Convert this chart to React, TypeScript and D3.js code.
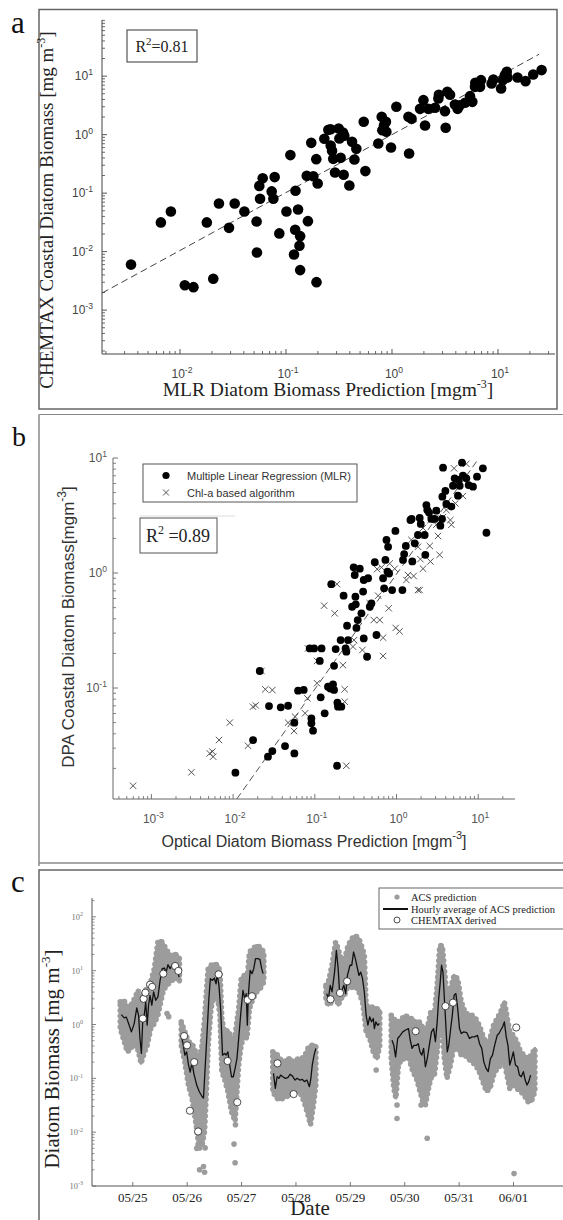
import React from 'react';
import * as d3 from 'd3';

const SERIF = '"Liberation Serif", "Times New Roman", serif';
const SANS = '"Liberation Sans", Arial, sans-serif';

// ---------- Panel a: MLR prediction vs CHEMTAX coastal diatom biomass (mg m^-3)
const mlrPredictionA = [
  0.00345, 0.0066, 0.0082, 0.0111, 0.0134, 0.0179, 0.0206, 0.0233, 0.029, 0.0328,
  0.0405, 0.0528, 0.0532, 0.056, 0.0569, 0.0603, 0.0733, 0.076, 0.0782, 0.0865,
  0.101, 0.11, 0.119, 0.122, 0.123, 0.13, 0.134, 0.136, 0.136, 0.161,
  0.157, 0.173, 0.181, 0.193, 0.194, 0.199, 0.23, 0.251, 0.264, 0.264,
  0.272, 0.279, 0.29, 0.314, 0.319, 0.328, 0.345, 0.35, 0.355, 0.396,
  0.42, 0.442, 0.461, 0.541, 0.561, 0.743, 0.8, 0.81, 0.841, 0.877,
  0.885, 0.979, 1.1, 1.43, 1.45, 1.53, 1.84, 1.98, 2.05, 2.2,
  2.55, 2.74, 2.77, 3.16, 3.21, 3.33, 3.53, 3.93, 4.16, 4.38,
  4.89, 5.45, 5.73, 6.07, 6.11, 6.53, 6.92, 6.77, 8.71, 9.04,
  10.7, 11.1, 11.6, 12.1, 12.3, 15.3, 18.2, 21.5, 25.8,
];
const chemtaxA = [
  0.006, 0.0316, 0.0486, 0.00267, 0.00247, 0.0316, 0.00343, 0.0667, 0.0255, 0.0667,
  0.0486, 0.0328, 0.00968, 0.133, 0.08, 0.18, 0.107, 0.08, 0.188, 0.0205,
  0.0486, 0.447, 0.00895, 0.0236, 0.11, 0.0526, 0.0126, 0.0184, 0.00483, 0.0332,
  0.198, 0.724, 0.195, 0.381, 0.00301, 0.146, 0.849, 1.21, 1.24, 0.653,
  0.53, 0.386, 0.225, 1.27, 0.859, 0.401, 1.09, 0.206, 0.955, 0.135,
  0.753, 0.376, 0.573, 1.66, 0.238, 0.706, 2.02, 1.19, 1.45, 1.66,
  1.12, 0.604, 2.99, 2.02, 0.476, 1.87, 2.76, 3.89, 1.43, 2.76,
  2.88, 4.15, 4.8, 2.52, 1.31, 5.4, 4.8, 3.28, 2.76, 3.19,
  3.5, 4.55, 3.64, 6.56, 7.7, 7.5, 8.55, 6.56, 7.5, 8.77,
  6.15, 8.55, 10.4, 11.9, 9.5, 9.5, 8.22, 10.7, 12.7,
];
// log10(y) = slope * log10(x) + intercept
const fitA = { slope: 0.99, intercept: 0.0, xFrom: 0.00184, xTo: 24.5 };

// ---------- Panel b: optical prediction vs DPA coastal diatom biomass (mg m^-3)
const mlrOpticalB = [
  0.01067, 0.01754, 0.0212, 0.0267, 0.0302, 0.0275, 0.0383, 0.0432, 0.0471, 0.0562,
  0.0562, 0.0624, 0.0731, 0.0908, 0.0908, 0.0951, 0.098, 0.0866, 0.115, 0.118,
  0.121, 0.132, 0.145, 0.155, 0.167, 0.172, 0.172, 0.18, 0.187, 0.189,
  0.192, 0.211, 0.159, 0.225, 0.207, 0.238, 0.243, 0.248, 0.255, 0.299,
  0.308, 0.314, 0.317, 0.286, 0.323, 0.335, 0.355, 0.372, 0.39, 0.397,
  0.397, 0.436, 0.449, 0.471, 0.493, 0.542, 0.568, 0.685, 0.705, 0.731,
  0.753, 0.789, 0.775, 0.811, 0.883, 0.969, 1.18, 1.2, 1.24, 1.3,
  1.48, 1.53, 1.56, 1.67, 1.83, 1.92, 1.98, 2.21, 2.25, 2.32,
  2.38, 2.5, 2.67, 2.93, 3.07, 3.44, 3.6, 3.71, 3.64, 3.96,
  4.07, 4.69, 4.91, 5.15, 5.65, 5.76, 5.93, 6.33, 6.5, 7.15,
  7.63, 8.62, 9.66, 11.4, 12.6,
];
const dpaMlrB = [
  0.01836, 0.0353, 0.1406, 0.0253, 0.0283, 0.0697, 0.0679, 0.0313, 0.0701, 0.05,
  0.027, 0.0948, 0.0962, 0.0544, 0.0493, 0.0426, 0.221, 0.221, 0.172, 0.083,
  0.221, 0.0603, 0.1026, 0.099, 0.1076, 0.0962, 0.156, 0.218, 0.0211, 0.0745,
  0.0688, 0.0688, 0.8, 0.635, 0.261, 0.221, 0.207, 0.348, 0.261, 1.12,
  0.961, 0.622, 0.534, 0.509, 0.333, 0.39, 1.09, 0.446, 0.689, 0.27,
  0.869, 0.187, 0.9, 0.509, 0.545, 1.24, 0.289, 0.9, 0.736, 1.3,
  1.94, 1.69, 1.03, 0.99, 0.711, 2.32, 0.711, 1.3, 1.46, 1.72,
  2.89, 2.95, 1.26, 1.81, 2.14, 3.01, 2.67, 2.14, 1.44, 3.9,
  3.53, 3.35, 2.95, 2.95, 3.48, 2.58, 2.95, 8.24, 4.61, 5.17,
  3.98, 3.78, 5.74, 6.66, 4.7, 6.44, 5.74, 9.1, 7.03, 6.66,
  5.82, 5.63, 6.88, 8.13, 2.24,
];
const chlOpticalB = [
  0.000596, 0.00309, 0.00518, 0.00558, 0.00569, 0.00673, 0.0091, 0.0152, 0.0175, 0.0189,
  0.0222, 0.0248, 0.0302, 0.0471, 0.0557, 0.0573, 0.076, 0.081, 0.0826, 0.1064,
  0.1064, 0.13, 0.175, 0.187, 0.221, 0.232, 0.232, 0.243, 0.293, 0.302,
  0.382, 0.471, 0.527, 0.624, 0.596, 0.685, 0.685, 0.803, 0.579, 0.655,
  0.826, 0.95, 0.977, 1.09, 1.32, 1.38, 1.62, 1.83, 1.92, 1.52,
  1.83, 1.96, 2.55, 2.6, 3.22, 3.37, 3.07, 3.71, 4.07, 4.56,
  4.69, 5.06, 5.25, 6.5, 7.15, 6.5, 2.11, 2.6, 2.11,
];
const dpaChlB = [
  0.01413, 0.0185, 0.027, 0.028, 0.0253, 0.0353, 0.05, 0.0315, 0.0688, 0.0706,
  0.1406, 0.0975, 0.096, 0.05, 0.0423, 0.0564, 0.0603, 0.0813, 0.221, 0.11,
  0.172, 0.52, 0.446, 0.8, 0.158, 0.0975, 0.076, 0.0211, 0.229, 0.261,
  0.214, 0.545, 0.39, 0.39, 0.635, 0.274, 0.19, 0.493, 1.08, 1.12,
  1.21, 1.09, 0.333, 0.311, 0.869, 0.961, 0.942, 0.711, 0.711, 1.94,
  1.69, 1.32, 1.72, 1.26, 2.1, 1.44, 2.63, 3.07, 3.53, 2.89,
  2.63, 8.13, 4.03, 4.67, 8.9, 6.88, 1.09, 2.89, 2.46,
];
const fitB = { slope: 1.0, intercept: -0.01, xFrom: 0.0111, xTo: 9.9 };

// ---------- Panel c: time series, days counted from 05/25 00:00
// ACS prediction spread: [day, low, high]
const acsSpread1 = [
  [-0.231, 0.84, 2.63], [-0.165, 0.51, 2.82], [-0.099, 0.31, 2.12], [-0.033, 0.36, 2.28],
  [0.033, 0.44, 3.03], [0.099, 0.33, 4.32], [0.152, 0.19, 1.72], [0.198, 0.27, 4.03],
  [0.264, 0.41, 4.64], [0.33, 0.84, 6.17], [0.396, 1.04, 10.9], [0.462, 1.49, 34],
  [0.515, 2.63, 36.5], [0.561, 4.32, 31.6], [0.627, 5.35, 23.8], [0.693, 6.17, 19.2],
  [0.759, 7.1, 20.6], [0.825, 7.1, 19.2], [0.858, 6.17, 16.7],
];
const acsSpread2 = [
  [0.891, 0.41, 1.12], [0.957, 0.2, 0.73], [1.023, 0.075, 0.48], [1.089, 0.043, 0.44],
  [1.155, 0.016, 0.31], [1.221, 0.005, 0.23], [1.274, 0.0058, 0.41], [1.32, 0.0103, 1.29],
  [1.353, 0.057, 4.03], [1.386, 0.41, 10.9], [1.439, 1.98, 12.6], [1.505, 4.03, 13.5],
  [1.564, 2.82, 12.6], [1.604, 1.49, 9.4], [1.637, 0.133, 1.29], [1.683, 0.1, 0.73],
  [1.749, 0.057, 0.79], [1.815, 0.024, 0.55], [1.881, 0.016, 0.63], [1.947, 0.177, 1.98],
  [1.993, 0.41, 7.1], [2.046, 0.63, 8.2], [2.099, 0.55, 6.17], [2.145, 1.98, 22.2],
  [2.211, 3.03, 25.5], [2.277, 4.03, 29.4], [2.343, 4.64, 27.4], [2.409, 6.17, 22.2],
];
const acsSpread3 = [
  [2.574, 0.057, 0.31], [2.64, 0.043, 0.29], [2.706, 0.04, 0.23], [2.772, 0.043, 0.2],
  [2.838, 0.046, 0.23], [2.904, 0.049, 0.23], [2.97, 0.057, 0.2], [3.036, 0.057, 0.23],
  [3.102, 0.049, 0.23], [3.168, 0.032, 0.27], [3.221, 0.021, 0.36], [3.267, 0.0137, 0.41],
  [3.314, 0.028, 0.41], [3.366, 0.075, 0.41],
];
const acsSpread4 = [
  [3.551, 2.82, 5.35], [3.597, 2.28, 6.17], [3.663, 2.63, 12.6], [3.729, 3.49, 34],
  [3.776, 2.28, 25.5], [3.828, 3.03, 16.7], [3.894, 3.49, 16.7], [3.96, 5.35, 29.4],
  [4.026, 4.64, 39.1], [4.092, 5.35, 45], [4.158, 4.03, 39.1], [4.224, 2.63, 25.5],
  [4.257, 1.49, 19.2], [4.29, 0.73, 2.28], [4.356, 0.55, 2.12], [4.422, 0.31, 2.12],
  [4.488, 0.23, 1.98], [4.541, 0.41, 1.84],
];
const acsSpread5 = [
  [4.752, 0.23, 1.49], [4.799, 0.065, 1.29], [4.838, 0.043, 1.12], [4.884, 0.177, 1.12],
  [4.95, 0.23, 1.29], [5.017, 0.23, 1.49], [5.083, 0.23, 1.29], [5.149, 0.133, 1.29],
  [5.215, 0.1, 1.04], [5.281, 0.057, 1.12], [5.333, 0.037, 0.84], [5.38, 0.032, 0.84],
  [5.426, 0.057, 0.97], [5.479, 0.1, 1.72], [5.545, 0.115, 1.49], [5.597, 0.31, 5.35],
  [5.644, 0.84, 29.4], [5.69, 0.97, 29.4], [5.729, 0.23, 10.9], [5.776, 0.1, 3.03],
  [5.842, 0.177, 4.64], [5.908, 0.41, 8.2], [5.974, 0.36, 7.1], [6.04, 0.27, 2.63],
  [6.106, 0.27, 1.72], [6.172, 0.23, 1.49], [6.238, 0.2, 1.49], [6.304, 0.177, 1.29],
  [6.37, 0.133, 0.97], [6.436, 0.087, 0.63], [6.502, 0.057, 0.41], [6.568, 0.065, 0.55],
  [6.634, 0.115, 0.97], [6.7, 0.153, 1.29], [6.766, 0.177, 1.72], [6.832, 0.2, 2.63],
  [6.878, 0.115, 1.49], [6.931, 0.065, 0.73], [6.997, 0.075, 0.63], [7.063, 0.065, 0.48],
  [7.129, 0.057, 0.31], [7.195, 0.049, 0.27], [7.261, 0.037, 0.23], [7.327, 0.037, 0.27],
  [7.393, 0.057, 0.36],
];
const acsSpreads = [acsSpread1, acsSpread2, acsSpread3, acsSpread4, acsSpread5];
// isolated ACS predictions outside the dense clouds: [day, value]
const acsOutliers = [
  [0.66, 1.4], [0.63, 1.6], [1.175, 0.005], [1.228, 0.002], [1.32, 0.0018], [1.3, 0.0023],
  [1.33, 0.0051], [1.2, 0.0058], [1.861, 0.006], [1.881, 0.0027], [1.888, 0.0137],
  [4.475, 0.143], [4.858, 0.032], [4.858, 0.018], [5.3, 0.032], [5.413, 0.0077], [7.01, 0.0017],
];

// hourly average of ACS prediction: [day, value]
const hourlyAvg1 = [
  [-0.211, 1.53], [-0.158, 1.33], [-0.119, 1.37], [-0.066, 0.97], [-0.026, 0.73], [0.026, 1.04],
  [0.073, 2.04], [0.106, 1.49], [0.132, 0.55], [0.158, 0.29], [0.185, 1.29], [0.211, 1.5],
  [0.238, 2.63], [0.264, 0.97], [0.29, 2.28], [0.317, 3.49], [0.35, 2.28], [0.383, 4.03],
  [0.422, 2.82], [0.462, 3.25], [0.502, 6.6], [0.541, 10.9], [0.581, 11.2], [0.614, 9.4],
  [0.647, 12.9], [0.686, 10.9], [0.726, 12.9], [0.766, 12.6], [0.805, 12.9], [0.838, 8.8],
  [0.851, 7.6],
];
const hourlyAvg2 = [
  [0.891, 0.63], [0.924, 0.44], [0.957, 0.27], [0.99, 0.31], [1.023, 0.18], [1.056, 0.13],
  [1.089, 0.2], [1.122, 0.124], [1.175, 0.075], [1.221, 0.057], [1.274, 0.046], [1.3, 0.043],
  [1.333, 0.177], [1.366, 0.73], [1.399, 3.03], [1.426, 7.1], [1.465, 6.6], [1.498, 7.3],
  [1.531, 5.7], [1.551, 8.8], [1.584, 5.3], [1.617, 1.84], [1.65, 0.27], [1.69, 0.29],
  [1.716, 0.27], [1.749, 0.31], [1.782, 0.177], [1.815, 0.107], [1.848, 0.107], [1.881, 0.153],
  [1.914, 0.23], [1.947, 0.55], [1.993, 1.98], [2.026, 4.3], [2.059, 3.0], [2.086, 3.75],
  [2.106, 0.97], [2.125, 3.49], [2.158, 10.1], [2.191, 8.8], [2.224, 10.9], [2.257, 16.7],
  [2.297, 16.7], [2.337, 16.2], [2.37, 10.9], [2.396, 8.8],
];
const hourlyAvg3 = [
  [2.587, 0.124], [2.62, 0.065], [2.653, 0.107], [2.686, 0.1], [2.719, 0.115], [2.759, 0.107],
  [2.805, 0.1], [2.851, 0.103], [2.891, 0.119], [2.937, 0.11], [2.983, 0.093], [3.023, 0.1],
  [3.069, 0.093], [3.116, 0.096], [3.155, 0.087], [3.201, 0.093], [3.248, 0.07], [3.274, 0.1],
  [3.3, 0.177], [3.333, 0.27], [3.366, 0.36],
];
const hourlyAvg4 = [
  [3.564, 3.75], [3.597, 3.03], [3.63, 5.3], [3.663, 4.03], [3.71, 9.4], [3.743, 23.8],
  [3.776, 10.9], [3.802, 4.0], [3.842, 4.3], [3.881, 5.35], [3.914, 3.75], [3.947, 8.2],
  [3.993, 12.6], [4.026, 12.6], [4.059, 22.2], [4.092, 16.7], [4.125, 11.7], [4.158, 8.2],
  [4.191, 9.4], [4.224, 7.1], [4.257, 4.03], [4.29, 1.49], [4.323, 0.97], [4.356, 1.39],
  [4.389, 1.12], [4.422, 1.29], [4.442, 0.84], [4.469, 1.12], [4.502, 0.97], [4.535, 1.04],
];
const hourlyAvg5 = [
  [4.766, 0.51], [4.799, 0.41], [4.832, 0.25], [4.871, 0.55], [4.917, 0.63], [4.964, 0.73],
  [5.017, 0.79], [5.069, 0.84], [5.102, 0.51], [5.135, 0.36], [5.168, 0.41], [5.215, 0.41],
  [5.248, 0.44], [5.281, 0.31], [5.314, 0.27], [5.347, 0.36], [5.38, 0.164], [5.413, 0.23],
  [5.452, 0.41], [5.492, 0.73], [5.531, 0.84], [5.564, 0.48], [5.597, 1.12], [5.624, 3.0],
  [5.65, 5.7], [5.677, 12.6], [5.703, 9.4], [5.729, 3.03], [5.756, 0.97], [5.782, 0.31],
  [5.809, 0.41], [5.842, 0.79], [5.875, 1.49], [5.908, 3.5], [5.941, 3.75], [5.974, 1.98],
  [6.007, 0.84], [6.04, 0.68], [6.086, 0.73], [6.139, 0.71], [6.191, 0.55], [6.238, 0.59],
  [6.284, 0.59], [6.337, 0.63], [6.376, 0.44], [6.416, 0.36], [6.455, 0.2], [6.495, 0.153],
  [6.535, 0.133], [6.574, 0.23], [6.614, 0.27], [6.653, 0.41], [6.7, 0.63], [6.733, 0.68],
  [6.766, 0.79], [6.799, 0.9], [6.832, 1.12], [6.865, 0.6], [6.898, 0.41], [6.931, 0.177],
  [6.964, 0.23], [6.997, 0.31], [7.036, 0.177], [7.076, 0.164], [7.109, 0.115], [7.142, 0.107],
  [7.182, 0.133], [7.215, 0.093], [7.248, 0.075], [7.281, 0.087], [7.314, 0.115],
];
const hourlyAvgs = [hourlyAvg1, hourlyAvg2, hourlyAvg3, hourlyAvg4, hourlyAvg5];

// CHEMTAX-derived diatom biomass: [day, value]
const chemtaxC = [
  [0.185, 1.29], [0.198, 3.0], [0.231, 3.9], [0.317, 5.5], [0.356, 5.0], [0.561, 8.8],
  [0.779, 12.2], [0.838, 9.9], [0.944, 0.61], [0.997, 0.41], [1.129, 0.2], [1.05, 0.025],
  [1.201, 0.0103], [1.578, 8.55], [1.743, 0.21], [1.921, 0.036], [2.112, 2.86], [2.191, 3.35],
  [2.66, 0.19], [2.957, 0.051], [3.637, 2.94], [3.809, 3.86], [3.941, 6.35], [5.201, 0.75],
  [5.749, 2.19], [5.888, 2.55], [7.05, 0.88],
];
const dayLabels = ['05/25', '05/26', '05/27', '05/28', '05/29', '05/30', '05/31', '06/01'];

// ---------- helpers
function logTicks(scale: any) {
  const [d0, d1] = scale.domain();
  const majors: number[] = [];
  const minors: number[] = [];
  for (let e = Math.floor(Math.log10(d0)); e <= Math.ceil(Math.log10(d1)); e++) {
    for (let k = 1; k <= 9; k++) {
      const v = k * Math.pow(10, e);
      if (v < d0 * 0.9999 || v > d1 * 1.0001) continue;
      (k === 1 ? majors : minors).push(v);
    }
  }
  return { majors, minors };
}

function Pow10({ x, y, exp, size, anchor, family, fill, supScale = 0.72, supRise = 0.42 }: any) {
  return (
    <text x={x} y={y} fontSize={size} fontFamily={family} fill={fill} textAnchor={anchor}>
      10
      <tspan fontSize={size * supScale} dy={-size * supRise}>{exp}</tspan>
    </text>
  );
}

function LogAxes({ x, y, color, labelSize, labelColor, family, xLabelY, yLabelX, major = 5, minor = 3, supScale, supRise }: any) {
  const xt = logTicks(x);
  const yt = logTicks(y);
  const [x0, x1] = x.range();
  const [y0, y1] = y.range();
  return (
    <g>
      <line x1={x0} x2={x1} y1={y0} y2={y0} stroke={color} strokeWidth={1} />
      <line x1={x0} x2={x0} y1={y0} y2={y1} stroke={color} strokeWidth={1} />
      {xt.minors.map((v, i) => (
        <line key={'xm' + i} x1={x(v)} x2={x(v)} y1={y0} y2={y0 - minor} stroke={color} strokeWidth={0.8} />
      ))}
      {xt.majors.map((v, i) => (
        <line key={'xM' + i} x1={x(v)} x2={x(v)} y1={y0} y2={y0 - major} stroke={color} strokeWidth={0.9} />
      ))}
      {yt.minors.map((v, i) => (
        <line key={'ym' + i} x1={x0} x2={x0 + minor} y1={y(v)} y2={y(v)} stroke={color} strokeWidth={0.8} />
      ))}
      {yt.majors.map((v, i) => (
        <line key={'yM' + i} x1={x0} x2={x0 + major} y1={y(v)} y2={y(v)} stroke={color} strokeWidth={0.9} />
      ))}
      {xt.majors.map((v, i) => (
        <Pow10 key={'xl' + i} x={x(v) + 2} y={xLabelY} exp={Math.round(Math.log10(v))} size={labelSize}
          anchor="middle" family={family} fill={labelColor} supScale={supScale} supRise={supRise} />
      ))}
      {yt.majors.map((v, i) => (
        <Pow10 key={'yl' + i} x={yLabelX} y={y(v) + labelSize * 0.36} exp={Math.round(Math.log10(v))} size={labelSize}
          anchor="end" family={family} fill={labelColor} supScale={supScale} supRise={supRise} />
      ))}
    </g>
  );
}

function PanelA() {
  const x = d3.scaleLog().domain([Math.pow(10, -2.736), Math.pow(10, 1.538)]).range([102, 555]);
  const y = d3.scaleLog().domain([Math.pow(10, -3.75), Math.pow(10, 1.96)]).range([354, 20]);
  const fy = (v: number) => Math.pow(10, fitA.slope * Math.log10(v) + fitA.intercept);
  return (
    <g>
      <rect x={39} y={9.5} width={518} height={399.5} fill="none" stroke="#666" strokeWidth={1.5} />
      <text x={11} y={33} fontFamily={SERIF} fontSize={31} fill="#111">a</text>
      <LogAxes x={x} y={y} color="#444" labelSize={12} labelColor="#444" family={SANS} xLabelY={378} yLabelX={93} />
      <line x1={x(fitA.xFrom)} y1={y(fy(fitA.xFrom))} x2={x(fitA.xTo)} y2={y(fy(fitA.xTo))}
        stroke="#444" strokeWidth={1} strokeDasharray="7,4" />
      {mlrPredictionA.map((v, i) => (
        <circle key={i} cx={x(v)} cy={y(chemtaxA[i])} r={5.3} fill="#000" />
      ))}
      <rect x={127} y={30} width={70} height={32} fill="#fff" stroke="#555" strokeWidth={1.2} />
      <text x={162} y={52} fontFamily={SERIF} fontSize={16} fill="#222" textAnchor="middle">
        R<tspan fontSize={11} dy={-7}>2</tspan><tspan dy={7}>=0.81</tspan>
      </text>
      <text transform="translate(53,210) rotate(-90)" fontFamily={SERIF} fontSize={19} fill="#222" textAnchor="middle">
        CHEMTAX Coastal Diatom Biomass [mg m<tspan fontSize={12} dy={-8}>-3</tspan><tspan dy={8}>]</tspan>
      </text>
      <text x={328} y={396} fontFamily={SERIF} fontSize={19.5} fill="#222" textAnchor="middle">
        MLR Diatom Biomass Prediction [mgm<tspan fontSize={12} dy={-8}>-3</tspan><tspan dy={8}>]</tspan>
      </text>
    </g>
  );
}

function Cross({ cx, cy, s, color }: any) {
  return (
    <g stroke={color} strokeWidth={1}>
      <line x1={cx - s} y1={cy - s} x2={cx + s} y2={cy + s} />
      <line x1={cx - s} y1={cy + s} x2={cx + s} y2={cy - s} />
    </g>
  );
}

function PanelB() {
  const x = d3.scaleLog().domain([Math.pow(10, -3.47), Math.pow(10, 1.45)]).range([113, 515]);
  const y = d3.scaleLog().domain([Math.pow(10, -1.965), Math.pow(10, 1)]).range([799, 458]);
  const fy = (v: number) => Math.pow(10, fitB.slope * Math.log10(v) + fitB.intercept);
  return (
    <g>
      <line x1={39} x2={39} y1={414.5} y2={866} stroke="#888" strokeWidth={1.5} />
      <line x1={39} x2={563} y1={414.5} y2={414.5} stroke="#888" strokeWidth={1.2} />
      <line x1={39} x2={563} y1={863} y2={863} stroke="#888" strokeWidth={1.5} />
      <text x={12} y={446} fontFamily={SERIF} fontSize={28} fill="#111">b</text>
      <LogAxes x={x} y={y} color="#666" labelSize={12} labelColor="#555" family={SANS} xLabelY={823} yLabelX={107} />
      <line x1={x(fitB.xFrom)} y1={y(fy(fitB.xFrom))} x2={x(fitB.xTo)} y2={y(fy(fitB.xTo))}
        stroke="#555" strokeWidth={1} strokeDasharray="7,4" />
      {chlOpticalB.map((v, i) => (
        <Cross key={'c' + i} cx={x(v)} cy={y(dpaChlB[i])} s={3.2} color="#555" />
      ))}
      {mlrOpticalB.map((v, i) => (
        <circle key={i} cx={x(v)} cy={y(dpaMlrB[i])} r={3.9} fill="#000" />
      ))}
      <rect x={143} y={464} width={214} height={38} fill="#fff" stroke="#555" strokeWidth={1} />
      <circle cx={166} cy={475.5} r={3.6} fill="#000" />
      <Cross cx={166} cy={492.5} s={3} color="#555" />
      <text x={187} y={479.5} fontFamily={SANS} fontSize={11} fill="#333">Multiple Linear Regression (MLR)</text>
      <text x={187} y={496.5} fontFamily={SANS} fontSize={11} fill="#333">Chl-a based algorithm</text>
      <line x1={140} x2={235} y1={516} y2={516} stroke="#ddd" strokeWidth={1} />
      <rect x={140} y={518} width={77} height={35} fill="#fff" stroke="#555" strokeWidth={1} />
      <text x={178} y={542} fontFamily={SERIF} fontSize={18} fill="#222" textAnchor="middle">
        R<tspan fontSize={12} dy={-8}>2</tspan><tspan dy={8}> =0.89</tspan>
      </text>
      <text transform="translate(74,627) rotate(-90)" fontFamily={SANS} fontSize={17} fill="#333" textAnchor="middle">
        DPA Coastal Diatom Biomass[mgm<tspan fontSize={12} dy={-8}>-3</tspan><tspan dy={8}>]</tspan>
      </text>
      <text x={314} y={847} fontFamily={SANS} fontSize={16} fill="#333" textAnchor="middle">
        Optical Diatom Biomass Prediction [mgm<tspan fontSize={11} dy={-8}>-3</tspan><tspan dy={8}>]</tspan>
      </text>
    </g>
  );
}

function PanelC() {
  const t0 = Date.UTC(2019, 4, 25);
  const toDate = (d: number) => new Date(t0 + d * 864e5);
  const x = d3.scaleUtc().domain([toDate(-0.75), toDate(7.91)]).range([92, 563]);
  const y = d3.scaleLog().domain([1e-3, Math.pow(10, 2.35)]).range([1186, 898]);
  const days = dayLabels.map((_, i) => toDate(i));
  const yt = logTicks(y);
  const area = d3.area<number[]>().x((d) => x(toDate(d[0]))).y0((d) => y(d[1])).y1((d) => y(d[2]));
  const line = d3.line<number[]>().x((d) => x(toDate(d[0]))).y((d) => y(d[1]));
  const fmt = d3.utcFormat('%m/%d');
  const grey = '#9c9c9c';
  return (
    <g>
      <rect x={39} y={870} width={530} height={380} fill="none" stroke="#666" strokeWidth={1.5} />
      <text x={11} y={892} fontFamily={SERIF} fontSize={31} fill="#111">c</text>
      {acsSpreads.map((seg, i) => {
        const d = area(seg as any) || '';
        return (
          <g key={'a' + i}>
            {/* dense cloud of ACS predictions, with a dotted rim for the scattered edge */}
            <path d={d} fill={grey} stroke={grey} strokeWidth={3} strokeLinejoin="round" />
            <path d={d} fill="none" stroke={grey} strokeWidth={5.6} strokeLinecap="round"
              strokeDasharray="0 5.5" />
          </g>
        );
      })}
      {acsOutliers.map((d, i) => (
        <circle key={'o' + i} cx={x(toDate(d[0]))} cy={y(d[1])} r={2.8} fill={grey} />
      ))}
      {hourlyAvgs.map((seg, i) => (
        <path key={'l' + i} d={line(seg as any) || ''} fill="none" stroke="#111" strokeWidth={1.3} strokeLinejoin="round" />
      ))}
      {chemtaxC.map((d, i) => (
        <circle key={'c' + i} cx={x(toDate(d[0]))} cy={y(d[1])} r={3.6} fill="#fff" stroke="#222" strokeWidth={0.8} />
      ))}
      <line x1={92} x2={563} y1={1186} y2={1186} stroke="#555" strokeWidth={1} />
      <line x1={92} x2={92} y1={1186} y2={898} stroke="#555" strokeWidth={1} />
      {days.map((d, i) => (
        <g key={'d' + i}>
          <line x1={x(d)} x2={x(d)} y1={1186} y2={1182} stroke="#555" strokeWidth={0.8} />
          <text x={x(d)} y={1202} fontFamily={SERIF} fontSize={13} fill="#222" textAnchor="middle">{fmt(d)}</text>
        </g>
      ))}
      {yt.minors.map((v, i) => (
        <line key={'ym' + i} x1={92} x2={94.5} y1={y(v)} y2={y(v)} stroke="#666" strokeWidth={0.7} />
      ))}
      {yt.majors.map((v, i) => (
        <g key={'yM' + i}>
          <line x1={92} x2={96} y1={y(v)} y2={y(v)} stroke="#666" strokeWidth={0.8} />
          <Pow10 x={83} y={y(v) + 3} exp={Math.round(Math.log10(v))} size={8.5} anchor="end" family={SERIF} fill="#777" />
        </g>
      ))}
      <text transform="translate(59,1059) rotate(-90)" fontFamily={SERIF} fontSize={21} fill="#222" textAnchor="middle">
        Diatom Biomass [mg m<tspan fontSize={13} dy={-9}>-3</tspan><tspan dy={9}>]</tspan>
      </text>
      <text x={310} y={1215} fontFamily={SERIF} fontSize={21} fill="#222" textAnchor="middle">Date</text>
      <rect x={379} y={888} width={190} height={41} fill="#fff" stroke="#666" strokeWidth={1} />
      <circle cx={397} cy={897} r={2.6} fill={grey} />
      <line x1={383} x2={408} y1={909} y2={909} stroke="#111" strokeWidth={2} />
      <circle cx={397} cy={920} r={3} fill="#fff" stroke="#222" strokeWidth={0.8} />
      <text x={411} y={900.5} fontFamily={SERIF} fontSize={10.5} fill="#222">ACS prediction</text>
      <text x={411} y={912.5} fontFamily={SERIF} fontSize={10.5} fill="#222">Hourly average of ACS prediction</text>
      <text x={411} y={924} fontFamily={SERIF} fontSize={10.5} fill="#222">CHEMTAX derived</text>
    </g>
  );
}

export default function App() {
  return (
    <svg width={563} height={1220} viewBox="0 0 563 1220"
      style={{ position: 'absolute', left: 0, top: 0, background: '#fff' }}>
      <rect x={0} y={0} width={563} height={1220} fill="#fff" />
      <PanelA />
      <PanelB />
      <PanelC />
    </svg>
  );
}
